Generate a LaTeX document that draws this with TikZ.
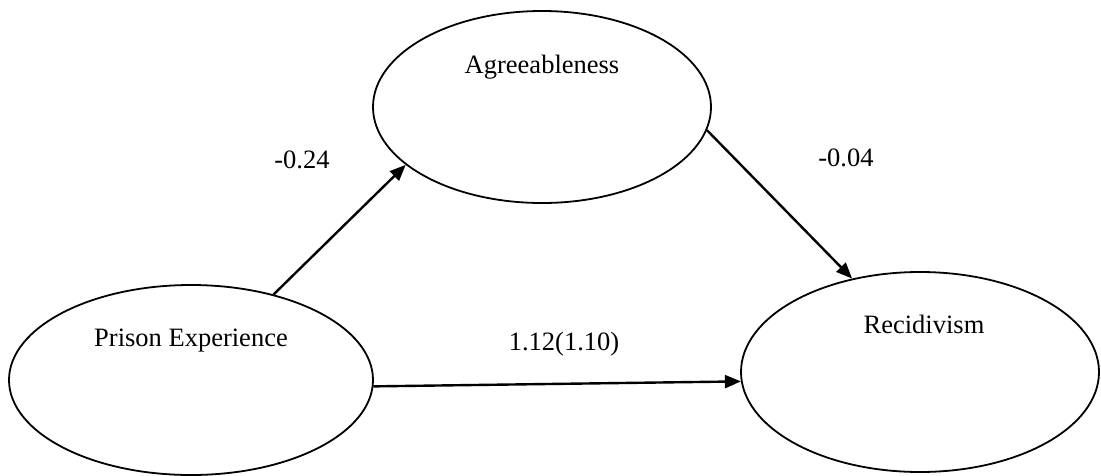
\documentclass[tikz,border=0pt]{standalone}
\usepackage{fontspec}
\setmainfont{Liberation Serif}
\usetikzlibrary{shapes.geometric,arrows.meta}
\begin{document}
\begin{tikzpicture}[x=1pt,y=-1pt,
  latent/.style={draw,ellipse,line width=1.8pt,inner sep=0pt},
  path/.style={line width=2.4pt,-{Triangle[length=16pt,width=13pt]}},
  lbl/.style={anchor=base,inner sep=0pt,font=\fontsize{26.5}{30}\selectfont}]
\useasboundingbox (0,0) rectangle (1101,475);

% latent variables
\node[latent,minimum width=338pt,minimum height=192pt] (ag) at (542,107) {};
\node[latent,minimum width=364pt,minimum height=190pt] (pe) at (191,380) {};
\node[latent,minimum width=358pt,minimum height=200pt] (rc) at (920,372) {};

% variable names
\node[lbl] (agt) at (542,73) {Agreeableness};
\node[lbl] (pet) at (191,346) {Prison Experience};
\node[lbl] (rct) at (924,333) {Recidivism};

% structural paths
\draw[path] (pe.46) -- (ag.203.5);
\draw[path] (ag.-8) -- (rc.126);
\draw[path] (pe.-2.8) -- (rc.183.5);

% path coefficients
\node[lbl] (c1) at (302,168) {-0.24};
\node[lbl] (c2) at (846,166) {-0.04};
\node[lbl] (c3) at (564,350) {1.12(1.10)};
\end{tikzpicture}
\end{document}
